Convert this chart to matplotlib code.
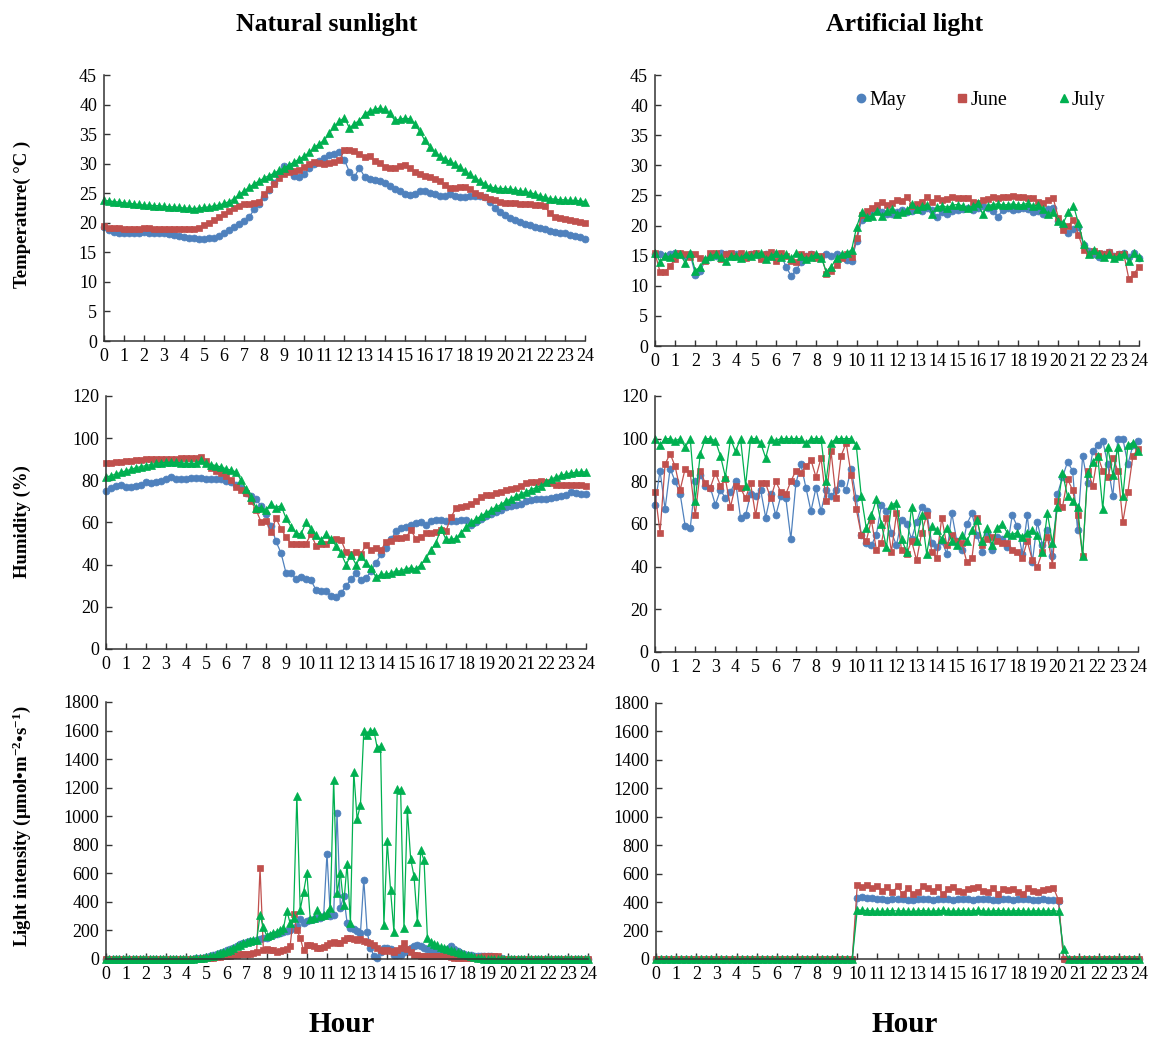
import numpy as np
import matplotlib
import matplotlib.pyplot as plt
from matplotlib.lines import Line2D

matplotlib.use("Agg")
plt.rcParams["font.family"] = ["Liberation Serif", "DejaVu Serif"]
plt.rcParams["mathtext.fontset"] = "custom"
plt.rcParams["mathtext.rm"] = "Liberation Serif"
plt.rcParams["mathtext.bf"] = "Liberation Serif:bold"
plt.rcParams["mathtext.default"] = "bf"

months = ["May", "June", "July"]

# readings every 15 min (97 per day) and every 10 min (145 per day, light under sunlight)
hours_q = np.arange(97) / 4
hours_s = np.arange(145) / 6

# ---- temperature, natural sunlight
temp_nat_may = [
    19.3, 18.8, 18.4, 18.3, 18.2, 18.3, 18.2, 18.3,
    18.4, 18.3, 18.3, 18.2, 18.2, 18.1, 18.0, 17.8,
    17.6, 17.5, 17.5, 17.3, 17.3, 17.4, 17.5, 17.8,
    18.3, 18.8, 19.3, 19.8, 20.3, 21.0, 22.3, 23.2,
    24.3, 25.5, 26.8, 28.3, 29.6, 29.2, 28.0, 27.8,
    28.3, 29.2, 30.0, 30.4, 30.9, 31.4, 31.6, 31.9,
    30.6, 28.6, 27.8, 29.3, 27.8, 27.4, 27.2, 27.0,
    26.8, 26.3, 25.8, 25.3, 24.9, 24.7, 24.8, 25.3,
    25.4, 25.1, 24.8, 24.6, 24.6, 24.9, 24.6, 24.3,
    24.4, 24.6, 24.6, 24.5, 24.3, 23.6, 22.5, 21.8,
    21.3, 20.9, 20.5, 20.1, 19.8, 19.6, 19.3, 19.1,
    18.9, 18.7, 18.5, 18.3, 18.2, 18.0, 17.8, 17.6,
    17.3,
]
temp_nat_jun = [
    19.4, 19.2, 19.1, 19.1, 19.0, 19.0, 19.0, 19.0,
    19.1, 19.1, 19.0, 19.0, 18.9, 18.9, 18.9, 18.9,
    18.9, 19.0, 19.0, 19.1, 19.6, 20.0, 20.5, 21.0,
    21.5, 22.0, 22.5, 22.9, 23.1, 23.2, 23.3, 23.6,
    24.8, 25.8, 26.6, 27.5, 28.2, 28.6, 28.8, 29.0,
    29.4, 30.0, 30.3, 30.2, 30.0, 30.1, 30.3, 30.6,
    32.3, 32.4, 32.1, 31.7, 31.1, 31.3, 30.4, 30.1,
    29.5, 29.2, 29.3, 29.6, 29.7, 29.3, 28.6, 28.2,
    27.9, 27.7, 27.4, 27.0, 26.4, 25.9, 25.9, 26.0,
    26.0, 25.7, 25.0, 24.7, 24.4, 24.1, 23.8, 23.5,
    23.3, 23.3, 23.3, 23.2, 23.2, 23.1, 23.0, 23.0,
    22.8, 21.6, 21.0, 20.8, 20.7, 20.5, 20.3, 20.1,
    20.0,
]
temp_nat_jul = [
    23.8, 23.7, 23.6, 23.5, 23.4, 23.3, 23.2, 23.1,
    23.0, 23.0, 22.9, 22.9, 22.8, 22.7, 22.7, 22.6,
    22.5, 22.5, 22.4, 22.5, 22.6, 22.7, 22.9, 23.0,
    23.3, 23.6, 24.1, 24.8, 25.4, 26.0, 26.6, 27.1,
    27.6, 28.0, 28.4, 28.9, 29.3, 29.8, 30.3, 30.8,
    31.3, 31.9, 32.8, 33.4, 34.0, 35.2, 36.3, 37.2,
    37.8, 36.0, 36.8, 37.3, 38.4, 38.9, 39.2, 39.4,
    39.2, 38.5, 37.4, 37.5, 37.7, 37.6, 36.8, 35.5,
    34.0, 32.9, 32.0, 31.3, 30.8, 30.4, 30.0, 29.4,
    28.8, 28.2, 27.6, 27.1, 26.6, 26.1, 25.9, 25.8,
    25.8, 25.7, 25.6, 25.4, 25.3, 25.1, 24.9, 24.6,
    24.3, 24.1, 24.0, 23.9, 23.9, 23.8, 23.8, 23.7,
    23.6,
]

# ---- temperature, artificial light
temp_art_may = [
    15.3, 15.2, 15.0, 15.3, 15.5, 15.3, 15.0, 15.2,
    11.8, 12.5, 14.3, 14.8, 15.0, 15.4, 15.2, 15.0,
    15.3, 15.0, 14.8, 15.2, 15.3, 14.6, 15.2, 15.0,
    15.3, 15.0, 13.2, 11.6, 12.6, 14.0, 15.0, 15.2,
    15.0, 14.8, 15.2, 15.0, 15.3, 15.0, 14.3, 14.2,
    17.5, 21.0, 22.0, 22.4, 22.6, 22.3, 21.9, 22.0,
    22.3, 22.6, 22.2, 22.5, 22.8, 22.5, 22.9, 22.6,
    21.4, 22.3, 22.0, 22.4, 22.6, 22.8, 23.0, 22.6,
    22.9, 23.2, 23.0, 22.4, 21.5, 22.6, 23.0, 22.6,
    22.8, 23.0, 22.7, 22.3, 22.5, 21.9, 22.8, 23.0,
    20.8, 19.9, 18.8, 19.4, 19.8, 16.8, 15.8, 15.2,
    14.8, 15.3, 15.6, 15.0, 15.2, 15.4, 14.8, 15.5,
    14.6,
]
temp_art_jun = [
    15.4, 12.3, 12.3, 13.3, 14.5, 15.5, 15.2, 14.8,
    15.3, 14.6, 14.2, 15.4, 15.5, 14.4, 15.2, 15.4,
    15.0, 15.5, 14.6, 15.3, 15.5, 14.4, 15.3, 15.6,
    14.2, 15.4, 15.0, 14.2, 14.0, 15.2, 15.0, 15.3,
    14.7, 15.0, 12.0, 12.5, 13.5, 14.6, 15.2, 14.8,
    18.0, 21.8, 22.5, 23.0, 23.5, 24.0, 23.4, 23.8,
    24.3, 24.1, 24.8, 23.3, 23.6, 23.9, 24.8, 24.0,
    24.6, 24.2, 24.4, 24.7, 24.6, 24.5, 24.6, 24.0,
    23.8, 24.3, 24.4, 24.7, 24.6, 24.8, 24.7, 24.9,
    24.7, 24.8, 24.6, 24.5, 23.9, 23.8, 24.2, 24.5,
    21.3, 19.2, 20.0, 21.0, 18.4, 16.0, 15.3, 15.8,
    15.5, 15.2, 15.6, 15.0, 15.3, 15.2, 11.1, 12.0,
    13.2,
]
temp_art_jul = [
    15.5, 14.0, 15.0, 14.8, 15.5, 15.2, 13.8, 15.5,
    12.5, 13.2, 14.4, 15.0, 15.2, 14.8, 14.2, 14.9,
    15.0, 14.6, 15.3, 14.9, 15.2, 15.5, 14.4, 15.0,
    15.4, 14.8, 15.2, 14.6, 15.5, 15.0, 14.5, 14.8,
    15.3, 14.6, 12.3, 13.2, 14.6, 15.2, 15.4, 16.0,
    19.8, 22.3, 21.4, 21.6, 22.5, 21.6, 22.4, 22.8,
    22.0, 22.2, 22.6, 23.6, 22.8, 23.2, 23.5, 22.0,
    23.1, 23.3, 23.0, 23.4, 23.5, 23.3, 23.0, 23.2,
    23.7, 21.9, 23.3, 23.5, 23.6, 23.4, 23.5, 23.6,
    23.4, 23.5, 23.7, 23.2, 23.5, 22.8, 22.0, 22.2,
    20.8, 20.5, 22.2, 23.3, 20.4, 17.0, 15.3, 16.0,
    15.3, 14.8, 15.2, 14.6, 15.0, 15.3, 14.2, 15.4,
    14.8,
]

# ---- humidity, natural sunlight
hum_nat_may = [
    75.0, 76.2, 77.5, 78.0, 76.8, 76.8, 77.5, 77.8,
    79.0, 78.5, 79.2, 79.8, 80.5, 81.8, 80.6, 80.5,
    80.8, 80.9, 81.0, 81.1, 80.8, 80.6, 80.8, 80.8,
    79.6, 79.2, 78.0, 76.5, 74.0, 72.5, 71.0, 68.0,
    64.0, 58.5, 51.0, 45.5, 36.0, 36.0, 33.0, 34.0,
    33.0, 32.5, 28.0, 27.5, 27.5, 25.0, 24.7, 26.5,
    30.0, 33.0, 36.0, 32.7, 33.5, 37.0, 40.8, 45.0,
    48.0, 52.0, 56.0, 57.5, 58.0, 59.0, 59.8, 60.0,
    59.0, 60.5, 61.0, 61.2, 60.5, 60.5, 60.5, 61.0,
    61.0, 59.0, 60.0, 61.5, 63.0, 64.0, 65.0, 66.0,
    67.5, 68.0, 68.5, 69.0, 70.0, 70.5, 71.0, 71.0,
    71.0, 71.5, 72.0, 72.5, 73.0, 74.5, 74.0, 73.5,
    73.5,
]
hum_nat_jun = [
    88.0, 88.3, 88.6, 88.8, 89.0, 89.3, 89.5, 89.8,
    90.0, 90.0, 90.1, 90.0, 90.0, 90.2, 90.3, 90.4,
    90.5, 90.6, 90.7, 91.0, 89.0, 86.0, 84.5, 83.5,
    82.0, 80.0, 77.0, 75.5, 74.0, 70.0, 66.0, 60.3,
    60.5, 55.5, 62.0, 57.0, 53.0, 50.0, 50.0, 50.0,
    50.0, 54.5, 49.0, 50.0, 50.0, 51.7, 52.0, 51.7,
    46.0, 45.0, 46.0, 45.0, 49.4, 47.0, 48.0, 47.0,
    50.8, 51.0, 52.6, 52.5, 53.0, 56.5, 52.0, 53.0,
    55.0, 55.0, 55.5, 56.5, 56.0, 62.6, 66.8, 67.5,
    68.0, 69.0, 70.0, 72.0, 73.0, 73.0, 74.0, 74.5,
    75.4, 76.0, 76.5, 77.5, 78.7, 79.0, 79.3, 79.5,
    79.0, 78.7, 78.0, 78.0, 78.0, 77.8, 77.8, 77.8,
    77.5,
]
hum_nat_jul = [
    81.5, 82.2, 83.0, 83.8, 84.5, 85.2, 86.0, 86.5,
    87.0, 87.5, 88.0, 88.3, 88.5, 88.5, 88.5, 88.3,
    88.0, 88.0, 88.0, 89.5, 88.0, 87.5, 87.0, 86.3,
    85.5, 84.8, 84.0, 80.0, 76.0, 72.0, 67.0, 67.0,
    66.0, 69.0, 67.0, 68.0, 62.0, 58.0, 55.0, 54.5,
    60.0, 57.0, 54.0, 51.7, 54.5, 52.0, 49.0, 45.5,
    40.0, 44.6, 40.0, 44.0, 41.0, 38.5, 34.0, 35.5,
    35.5, 36.0, 37.0, 37.0, 38.0, 38.5, 38.0, 40.0,
    43.0, 47.0, 50.5, 57.0, 52.0, 52.0, 52.5, 55.0,
    58.0, 60.0, 61.5, 63.0, 64.5, 66.0, 67.3, 68.5,
    70.0, 71.3, 72.5, 73.5, 74.5, 75.5, 76.5, 77.5,
    79.0, 80.5, 81.6, 82.3, 83.0, 83.5, 83.8, 84.0,
    84.0,
]

# ---- humidity, artificial light
hum_art_may = [
    69, 85, 67, 86, 80, 74, 59, 58,
    80, 83, 78, 77, 69, 76, 72, 75,
    80, 63, 64, 74, 73, 76, 63, 74,
    64, 73, 72, 53, 79, 88, 77, 66,
    77, 66, 76, 73, 76, 79, 76, 86,
    72, 55, 51, 50, 55, 69, 66, 56,
    50, 62, 60, 53, 61, 68, 66, 51,
    49, 52, 46, 65, 52, 48, 60, 65,
    55, 47, 56, 48, 54, 53, 49, 64,
    59, 46, 64, 42, 61, 50, 57, 45,
    74, 82, 89, 85, 57, 92, 79, 94,
    97, 99, 88, 73, 100, 100, 88, 97,
    99,
]
hum_art_jun = [
    75, 56, 88, 93, 87, 76, 86, 84,
    64, 85, 79, 77, 84, 78, 81, 68,
    78, 77, 72, 79, 64, 79, 79, 72,
    80, 75, 74, 80, 85, 84, 87, 90,
    82, 91, 71, 94, 72, 92, 98, 83,
    67, 55, 52, 62, 48, 51, 63, 47,
    65, 48, 46, 52, 43, 56, 64, 47,
    44, 63, 50, 55, 52, 51, 42, 44,
    63, 50, 53, 54, 52, 51, 51, 48,
    47, 44, 52, 43, 40, 47, 54, 41,
    71, 68, 81, 76, 64, 45, 85, 78,
    92, 85, 82, 91, 85, 61, 75, 92,
    95,
]
hum_art_jul = [
    100, 97, 100, 100, 99, 100, 96, 100,
    71, 93, 100, 100, 99, 92, 82, 100,
    94, 100, 78, 100, 100, 98, 91, 100,
    99, 100, 100, 100, 100, 100, 98, 100,
    100, 100, 80, 98, 100, 100, 100, 100,
    97, 73, 58, 64, 71.5, 60, 49, 69,
    70, 53, 47, 68, 52, 64, 46, 59,
    57, 53, 58, 52, 50, 55, 52, 57,
    62, 52, 58, 50, 58, 60, 56, 55,
    56, 54, 56, 57, 55, 47, 65, 51,
    68, 84, 73, 71, 68, 45, 84, 89,
    92, 67, 96, 83, 96, 73, 97, 98,
    94,
]

# ---- light intensity, natural sunlight (10 min readings)
light_nat_may = [
    0, 0, 0, 0, 0, 0, 0, 0, 0, 0, 0, 0, 0, 0, 0, 0, 0, 0, 0, 0, 0, 0, 0, 0,
    0, 0, 2, 4, 6, 9,
    13, 20, 28, 36, 45, 52,
    60, 70, 80, 92, 102, 112,
    120, 125, 128, 132, 140, 145,
    150, 158, 166, 175, 182, 188,
    195, 205, 215, 230, 280, 255,
    265, 270, 278, 285, 290, 300,
    738, 300, 310, 1023, 360, 440,
    255, 220, 210, 195, 180, 556,
    190, 80, 20, 10, 50, 80,
    75, 70, 30, 30, 30, 50,
    60, 80, 90, 100, 90, 75,
    70, 60, 50, 50, 50, 60,
    70, 90, 70, 55, 40, 35,
    30, 25, 22, 20, 20, 20,
    20, 18, 15, 10, 5, 2,
    0, 0, 0, 0, 0, 0, 0, 0, 0, 0, 0, 0, 0, 0, 0, 0, 0, 0, 0, 0, 0, 0, 0, 0,
    0,
]
light_nat_jun = [
    0, 0, 0, 0, 0, 0, 0, 0, 0, 0, 0, 0, 0, 0, 0, 0, 0, 0, 0, 0, 0, 0, 0, 0,
    0, 0, 0, 2, 3, 4,
    5, 7, 10, 12, 15, 18,
    20, 24, 28, 30, 32, 35,
    35, 38, 42, 50, 640, 60,
    70, 65, 60, 50, 55, 60,
    70, 90, 315, 200, 150, 60,
    100, 95, 90, 80, 80, 85,
    100, 110, 120, 110, 115, 130,
    150, 145, 140, 130, 140, 125,
    120, 110, 100, 80, 60, 55,
    60, 55, 50, 60, 80, 110,
    70, 50, 30, 25, 20, 20,
    20, 20, 18, 20, 22, 20,
    20, 15, 10, 5, 5, 5,
    5, 8, 10, 12, 15, 18,
    20, 20, 20, 20, 0, 0,
    0, 0, 0, 0, 0, 0, 0, 0, 0, 0, 0, 0, 0, 0, 0, 0, 0, 0, 0, 0, 0, 0, 0, 0,
    0,
]
light_nat_jul = [
    0, 0, 0, 0, 0, 0, 0, 0, 0, 0, 0, 0, 0, 0, 0, 0, 0, 0, 0, 0, 0, 0, 0, 0,
    0, 0, 2, 4, 6, 9,
    13, 18, 24, 32, 40, 48,
    57, 66, 76, 88, 100, 112,
    120, 126, 130, 132, 306, 222,
    160, 170, 180, 192, 205, 215,
    338, 250, 290, 1144, 345, 467,
    602, 280, 290, 340, 300, 310,
    320, 360, 1256, 460, 600, 380,
    668, 252, 1310, 980, 1080, 1595,
    1570, 1600, 1600, 1480, 1490, 236,
    824, 480, 190, 1190, 1180, 215,
    1050, 700, 580, 260, 760, 690,
    145, 120, 105, 95, 85, 80,
    72, 65, 55, 48, 40, 32,
    25, 18, 12, 8, 5, 3,
    2, 0, 0, 0, 0, 0,
    0, 0, 0, 0, 0, 0, 0, 0, 0, 0, 0, 0, 0, 0, 0, 0, 0, 0, 0, 0, 0, 0, 0, 0,
    0,
]

# ---- light intensity, artificial light (lamps on 10:00-20:00)
light_art_may = [
    0, 0, 0, 0, 0, 0, 0, 0, 0, 0, 0, 0, 0, 0, 0, 0, 0, 0, 0, 0,
    0, 0, 0, 0, 0, 0, 0, 0, 0, 0, 0, 0, 0, 0, 0, 0, 0, 0, 0, 0,
    430, 438, 432, 428, 425, 420, 418, 422, 425, 420,
    418, 415, 420, 424, 420, 418, 422, 425, 420, 416,
    420, 423, 420, 418, 421, 424, 420, 416, 418, 422,
    420, 417, 420, 423, 419, 416, 418, 420, 417, 415,
    410,
    0, 0, 0, 0, 0, 0, 0, 0, 0, 0, 0, 0, 0, 0, 0, 0,
]
light_art_jun = [
    0, 0, 0, 0, 0, 0, 0, 0, 0, 0, 0, 0, 0, 0, 0, 0, 0, 0, 0, 0,
    0, 0, 0, 0, 0, 0, 0, 0, 0, 0, 0, 0, 0, 0, 0, 0, 0, 0, 0, 0,
    520, 505, 520, 500, 515, 480, 505, 470, 510, 455,
    500, 460, 470, 510, 500, 475, 505, 455, 495, 505,
    480, 470, 495, 500, 505, 480, 470, 500, 460, 490,
    485, 495, 470, 460, 500, 480, 470, 485, 495, 500,
    415,
    0, 0, 0, 0, 0, 0, 0, 0, 0, 0, 0, 0, 0, 0, 0, 0,
]
light_art_jul = [
    0, 0, 0, 0, 0, 0, 0, 0, 0, 0, 0, 0, 0, 0, 0, 0, 0, 0, 0, 0,
    0, 0, 0, 0, 0, 0, 0, 0, 0, 0, 0, 0, 0, 0, 0, 0, 0, 0, 0, 0,
    345, 342, 340, 338, 336, 335, 338, 340, 337, 339,
    336, 334, 338, 340, 338, 336, 339, 341, 338, 336,
    338, 340, 337, 339, 341, 338, 336, 338, 340, 339,
    337, 338, 340, 338, 336, 338, 339, 337, 338, 340,
    335,
    70, 0, 0, 0, 0, 0, 0, 0, 0, 0, 0, 0, 0, 0, 0, 0,
]

colors = ["#4F81BD", "#C0504D", "#00B050"]
markers = ["o", "s", "^"]
msizes = [5.0, 4.6, 5.6]

fig = plt.figure(figsize=(11.54, 10.41), dpi=100)

panels = [
    ([0.0901, 0.6724, 0.4168, 0.2555], hours_q,
     [temp_nat_may, temp_nat_jun, temp_nat_jul], 45, 5),
    ([0.5676, 0.6676, 0.4194, 0.2603], hours_q,
     [temp_art_may, temp_art_jun, temp_art_jul], 45, 5),
    ([0.0919, 0.3766, 0.4159, 0.2430], hours_q,
     [hum_nat_may, hum_nat_jun, hum_nat_jul], 120, 20),
    ([0.5676, 0.3737, 0.4185, 0.2459], hours_q,
     [hum_art_may, hum_art_jun, hum_art_jul], 120, 20),
    ([0.0919, 0.0788, 0.4177, 0.2469], hours_s,
     [light_nat_may, light_nat_jun, light_nat_jul], 1800, 200),
    ([0.5685, 0.0788, 0.4185, 0.2459], hours_q,
     [light_art_may, light_art_jun, light_art_jul], 1800, 200),
]

axes = []
for box, x, ys, ytop, step in panels:
    ax = fig.add_axes(box)
    for y, c, m, ms, name in zip(ys, colors, markers, msizes, months):
        ax.plot(x, y, color=c, lw=0.9, marker=m, ms=ms, mfc=c, mec=c,
                mew=0.5, clip_on=False, label=name)
    ax.set_xlim(0, 24)
    ax.set_ylim(0, ytop)
    ax.set_xticks(range(25))
    ax.set_yticks(np.arange(0, ytop + 1, step))
    for side in ["top", "right"]:
        ax.spines[side].set_visible(False)
    for side in ["left", "bottom"]:
        ax.spines[side].set_color("#333333")
        ax.spines[side].set_linewidth(1.1)
    ax.tick_params(direction="in", length=4, width=1, colors="#333333",
                   labelcolor="black", labelsize=13, pad=5)
    axes.append(ax)

handles = [Line2D([], [], color=c, marker=m, ls="", ms=6) for c, m in zip(colors, markers)]
axes[1].legend(handles, months, loc="center", bbox_to_anchor=(0.67, 0.905),
               ncol=3, frameon=False, fontsize=14.5, handletextpad=0.0,
               handlelength=0.8, columnspacing=2.4, borderaxespad=0)

fig.text(327 / 1154, 1 - 24 / 1041, "Natural sunlight", ha="center", va="center",
         fontsize=18.5, weight="bold")
fig.text(905 / 1154, 1 - 24 / 1041, "Artificial light", ha="center", va="center",
         fontsize=18.5, weight="bold")
for xc in [342, 905]:
    fig.text(xc / 1154, 1 - 1025 / 1041, "Hour", ha="center", va="center",
             fontsize=21, weight="bold")

fig.text(22 / 1154, 1 - 214 / 1041, "Temperature( °C )", rotation=90,
         ha="center", va="center", fontsize=13.5, weight="bold")
fig.text(22 / 1154, 1 - 522 / 1041, "Humidity (%)", rotation=90,
         ha="center", va="center", fontsize=13.5, weight="bold")
fig.text(22 / 1154, 1 - 826 / 1041, r"Light intensity (μmol•m$^{-2}$•s$^{-1}$)",
         rotation=90, ha="center", va="center", fontsize=13.5, weight="bold")

fig.savefig("out.png", dpi=100)
